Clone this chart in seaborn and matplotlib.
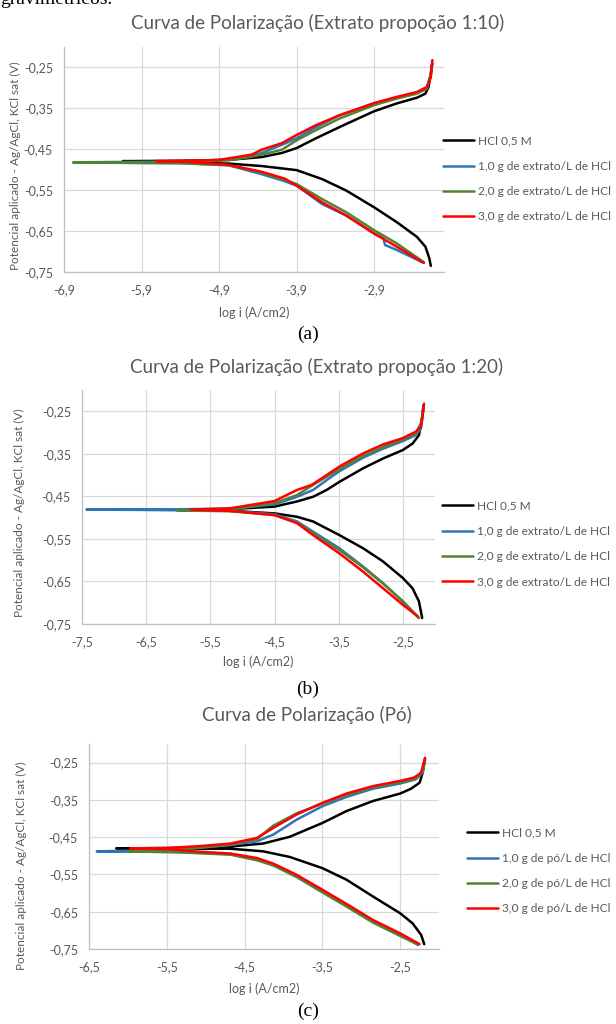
import numpy as np
import pandas as pd
import matplotlib
matplotlib.use("Agg")
import matplotlib.pyplot as plt
import seaborn as sns

# ---------------- DATA ----------------
LABELS_EXT = ["HCl 0,5 M", "1,0 g de extrato/L de HCl", "2,0 g de extrato/L de HCl", "3,0 g de extrato/L de HCl"]
LABELS_PO = ["HCl 0,5 M", "1,0 g de pó/L de HCl", "2,0 g de pó/L de HCl", "3,0 g de pó/L de HCl"]
COLORS = ["#000000", "#2E75B6", "#548235", "#FF0000"]

TITLES = ["Curva de Polarização (Extrato propoção 1:10)",
          "Curva de Polarização (Extrato propoção 1:20)",
          "Curva de Polarização (Pó)"]
SUBLABELS = ["(a)", "(b)", "(c)"]
X_LABEL = "log i (A/cm2)"
Y_LABEL = "Potencial aplicado - Ag/AgCl, KCl sat (V)"

XTICKS_A = [-6.9, -5.9, -4.9, -3.9, -2.9]
XTICKS_B = [-7.5, -6.5, -5.5, -4.5, -3.5, -2.5]
XTICKS_C = [-6.5, -5.5, -4.5, -3.5, -2.5]
YTICKS = [-0.25, -0.35, -0.45, -0.55, -0.65, -0.75]

# ---- panel (a): extract 1:10 ----
A_HCL_LOGI = [-2.17, -2.19, -2.24, -2.35, -2.61, -2.90, -3.26, -3.57, -3.90, -4.35, -4.78, -5.40, -6.14,
              -5.40, -4.78, -4.35, -4.09, -3.90, -3.65, -3.35, -3.04, -2.90, -2.61, -2.35, -2.24, -2.20, -2.17, -2.16]
A_HCL_E = [-0.735, -0.716, -0.688, -0.664, -0.628, -0.592, -0.551, -0.523, -0.501, -0.491, -0.485, -0.482, -0.479,
           -0.478, -0.476, -0.469, -0.459, -0.447, -0.423, -0.396, -0.369, -0.357, -0.338, -0.324, -0.314, -0.298, -0.266, -0.245]
A_1G_LOGI = [-2.28, -2.61, -2.76, -2.78, -2.90, -3.26, -3.57, -3.90, -4.07, -4.35, -4.78, -5.40, -6.20, -6.78,
             -6.20, -5.40, -4.78, -4.48, -4.35, -4.09, -3.90, -3.65, -3.35, -2.90, -2.61, -2.35, -2.22, -2.17, -2.15]
A_1G_E = [-0.726, -0.696, -0.684, -0.668, -0.656, -0.612, -0.584, -0.539, -0.527, -0.511, -0.489, -0.484, -0.483, -0.482,
          -0.481, -0.480, -0.475, -0.466, -0.459, -0.439, -0.423, -0.396, -0.367, -0.338, -0.324, -0.312, -0.298, -0.266, -0.240]
A_2G_LOGI = [-2.26, -2.61, -2.90, -3.26, -3.57, -3.90, -4.35, -4.78, -5.40, -6.20, -6.78,
             -6.20, -5.40, -4.78, -4.48, -4.35, -4.09, -3.90, -3.65, -3.35, -2.90, -2.61, -2.35, -2.22, -2.17, -2.15]
A_2G_E = [-0.726, -0.680, -0.648, -0.604, -0.572, -0.535, -0.507, -0.489, -0.484, -0.483, -0.483,
          -0.482, -0.481, -0.477, -0.468, -0.463, -0.451, -0.428, -0.403, -0.375, -0.342, -0.326, -0.314, -0.302, -0.266, -0.240]
A_3G_LOGI = [-2.26, -2.61, -2.90, -3.26, -3.57, -3.90, -4.05, -4.35, -4.78, -5.30, -5.71,
             -5.30, -4.90, -4.48, -4.35, -4.09, -3.90, -3.65, -3.35, -2.90, -2.61, -2.35, -2.22, -2.17, -2.15]
A_3G_E = [-0.728, -0.688, -0.656, -0.612, -0.580, -0.539, -0.522, -0.505, -0.488, -0.481, -0.479,
          -0.478, -0.476, -0.463, -0.451, -0.435, -0.415, -0.391, -0.367, -0.337, -0.322, -0.310, -0.298, -0.274, -0.232]

# ---- panel (b): extract 1:20 ----
B_HCL_LOGI = [-2.20, -2.25, -2.35, -2.50, -2.81, -3.12, -3.49, -3.90, -4.15, -4.50, -5.19, -5.60,
              -5.19, -4.50, -4.15, -3.90, -3.69, -3.49, -3.12, -2.81, -2.50, -2.35, -2.25, -2.21, -2.18]
B_HCL_E = [-0.736, -0.697, -0.666, -0.642, -0.603, -0.572, -0.541, -0.509, -0.498, -0.490, -0.484, -0.481,
           -0.480, -0.474, -0.462, -0.451, -0.435, -0.416, -0.384, -0.361, -0.341, -0.326, -0.306, -0.275, -0.236]
B_1G_LOGI = [-2.25, -2.50, -2.81, -3.12, -3.49, -3.90, -4.15, -4.50, -5.19, -6.50, -7.43,
             -6.50, -5.19, -4.50, -4.15, -3.90, -3.69, -3.49, -3.12, -2.81, -2.50, -2.30, -2.22, -2.20, -2.18]
B_1G_E = [-0.736, -0.697, -0.654, -0.615, -0.572, -0.533, -0.509, -0.492, -0.484, -0.482, -0.481,
          -0.481, -0.479, -0.469, -0.451, -0.435, -0.412, -0.391, -0.359, -0.338, -0.320, -0.306, -0.291, -0.267, -0.240]
B_2G_LOGI = [-2.25, -2.50, -2.81, -3.12, -3.49, -3.90, -4.15, -4.50, -5.19, -6.02,
             -5.19, -4.50, -4.15, -3.90, -3.69, -3.49, -3.12, -2.81, -2.50, -2.30, -2.21, -2.18]
B_2G_E = [-0.736, -0.697, -0.655, -0.617, -0.576, -0.537, -0.511, -0.494, -0.485, -0.483,
          -0.481, -0.466, -0.447, -0.423, -0.404, -0.386, -0.355, -0.334, -0.316, -0.302, -0.275, -0.240]
B_3G_LOGI = [-2.27, -2.50, -2.81, -3.12, -3.49, -3.90, -4.15, -4.50, -5.19, -5.81,
             -5.19, -4.50, -4.15, -3.92, -3.69, -3.49, -3.12, -2.81, -2.50, -2.30, -2.22, -2.19, -2.17]
B_3G_E = [-0.732, -0.705, -0.666, -0.627, -0.584, -0.541, -0.513, -0.494, -0.484, -0.481,
          -0.478, -0.461, -0.435, -0.423, -0.400, -0.380, -0.349, -0.328, -0.313, -0.298, -0.287, -0.259, -0.232]

# ---- panel (c): powder ----
C_HCL_LOGI = [-2.19, -2.23, -2.34, -2.50, -2.85, -3.19, -3.50, -3.92, -4.26, -4.68, -5.40, -6.15,
              -5.40, -4.68, -4.26, -3.92, -3.50, -3.19, -2.85, -2.50, -2.36, -2.25, -2.21, -2.18]
C_HCL_E = [-0.737, -0.712, -0.681, -0.654, -0.609, -0.564, -0.533, -0.503, -0.488, -0.481, -0.481, -0.480,
           -0.479, -0.475, -0.467, -0.449, -0.412, -0.380, -0.353, -0.333, -0.320, -0.304, -0.277, -0.241]
C_1G_LOGI = [-2.27, -2.50, -2.85, -3.19, -3.50, -3.83, -4.13, -4.34, -4.68, -5.40, -6.40,
             -5.40, -4.68, -4.34, -4.13, -3.83, -3.50, -3.19, -2.85, -2.50, -2.30, -2.21, -2.18]
C_1G_E = [-0.739, -0.712, -0.676, -0.633, -0.596, -0.555, -0.524, -0.510, -0.495, -0.490, -0.488,
          -0.484, -0.471, -0.461, -0.443, -0.403, -0.367, -0.342, -0.320, -0.306, -0.295, -0.277, -0.245]
C_2G_LOGI = [-2.28, -2.50, -2.85, -3.19, -3.50, -3.83, -4.13, -4.34, -4.68, -5.40, -6.00,
             -5.40, -4.68, -4.34, -4.13, -3.83, -3.50, -3.19, -2.85, -2.50, -2.30, -2.21, -2.18]
C_2G_E = [-0.737, -0.715, -0.679, -0.636, -0.598, -0.557, -0.526, -0.512, -0.497, -0.490, -0.488,
          -0.485, -0.470, -0.455, -0.419, -0.386, -0.360, -0.336, -0.316, -0.302, -0.293, -0.272, -0.240]
C_3G_LOGI = [-2.25, -2.50, -2.85, -3.19, -3.50, -3.83, -4.13, -4.34, -4.68, -5.08, -5.50, -5.97,
             -5.50, -5.08, -4.68, -4.34, -4.13, -3.83, -3.50, -3.19, -2.85, -2.50, -2.32, -2.23, -2.18]
C_3G_E = [-0.737, -0.708, -0.672, -0.629, -0.591, -0.551, -0.521, -0.506, -0.494, -0.489, -0.482, -0.480,
          -0.479, -0.474, -0.467, -0.452, -0.425, -0.389, -0.358, -0.333, -0.313, -0.299, -0.290, -0.277, -0.237]

# ---------------- STYLE ----------------
sns.set_style("white")
plt.rcParams["font.family"] = ["Lato", "DejaVu Sans"]
GRAY_TXT = "#595959"
W, H = 616, 1024


def fx(x):
    return x / W


def fy(y):
    return 1 - y / H


def frame(series, labels):
    rows = []
    for (lx, ey), lab in zip(series, labels):
        rows.append(pd.DataFrame({"logi": lx, "E": ey, "serie": lab, "k": np.arange(len(lx))}))
    return pd.concat(rows, ignore_index=True)


panels = [
    dict(series=[(A_HCL_LOGI, A_HCL_E), (A_1G_LOGI, A_1G_E), (A_2G_LOGI, A_2G_E), (A_3G_LOGI, A_3G_E)],
         labels=LABELS_EXT, xticks=XTICKS_A, xlim=(-6.9, -2.0), box=(64, 47, 444, 272),
         title_xy=(318, 23), sub_xy=(308, 334), leg=(443, 179), ylab=(21, 166), xlab_top=306),
    dict(series=[(B_HCL_LOGI, B_HCL_E), (B_1G_LOGI, B_1G_E), (B_2G_LOGI, B_2G_E), (B_3G_LOGI, B_3G_E)],
         labels=LABELS_EXT, xticks=XTICKS_B, xlim=(-7.5, -2.0), box=(82, 390, 435, 624),
         title_xy=(317, 367), sub_xy=(308, 689), leg=(442, 544), ylab=(25, 513), xlab_top=655),
    dict(series=[(C_HCL_LOGI, C_HCL_E), (C_1G_LOGI, C_1G_E), (C_2G_LOGI, C_2G_E), (C_3G_LOGI, C_3G_E)],
         labels=LABELS_PO, xticks=XTICKS_C, xlim=(-6.5, -2.0), box=(89, 744, 439, 949),
         title_xy=(307, 715), sub_xy=(308, 1011), leg=(467, 871), ylab=(27, 866), xlab_top=982),
]

fig = plt.figure(figsize=(W / 100, H / 100), dpi=100)
fig.patch.set_facecolor("white")

# partially visible line of body text at the very top of the scanned page
fig.text(fx(0), fy(4), "gravimétricos.", fontsize=14, family="Liberation Serif",
         ha="left", va="baseline", color="black")

for i, p in enumerate(panels):
    l, t, r, b = p["box"]
    ax = fig.add_axes([fx(l), fy(b), (r - l) / W, (b - t) / H])
    df = frame(p["series"], p["labels"])
    sns.lineplot(data=df, x="logi", y="E", hue="serie", hue_order=p["labels"],
                 palette=COLORS, sort=False, estimator=None, linewidth=1.8, ax=ax)
    ax.set_xlim(*p["xlim"])
    ax.set_ylim(-0.75, -0.20)
    ax.set_xticks(p["xticks"])
    ax.set_xticklabels([f"{v:.1f}".replace(".", ",") for v in p["xticks"]])
    ax.set_yticks(YTICKS)
    ax.set_yticklabels([f"{v:.2f}".replace(".", ",") for v in YTICKS])
    ax.tick_params(axis="both", length=0, labelsize=9, colors=GRAY_TXT)
    ax.tick_params(axis="x", pad=9)
    ax.tick_params(axis="y", pad=8)
    ax.grid(True, color="#D9D9D9", linewidth=0.9)
    ax.set_axisbelow(True)
    for s in ["top", "right"]:
        ax.spines[s].set_visible(False)
    for s in ["left", "bottom"]:
        ax.spines[s].set_color("#BFBFBF")
        ax.spines[s].set_linewidth(0.9)
    ax.set_xlabel(X_LABEL, fontsize=9, color=GRAY_TXT)
    ax.set_ylabel(Y_LABEL, fontsize=8.5, color=GRAY_TXT)
    ax.xaxis.set_label_coords(0.5, (b - p["xlab_top"]) / (b - t))
    yx, yy = p["ylab"]
    ax.yaxis.set_label_coords((yx - l) / (r - l), (b - yy) / (b - t))

    lx, ly = p["leg"]
    sns.move_legend(ax, "center left",
                    bbox_to_anchor=((lx - l) / (r - l), (b - ly) / (b - t)),
                    frameon=False, title=None, fontsize=8.6, labelcolor=GRAY_TXT,
                    handlelength=2.6, handletextpad=0.3, labelspacing=1.2,
                    borderpad=0, borderaxespad=0)

    tx, ty = p["title_xy"]
    fig.text(fx(tx), fy(ty), TITLES[i], fontsize=13.5, color=GRAY_TXT, ha="center", va="center")
    sx, sy = p["sub_xy"]
    fig.text(fx(sx), fy(sy), SUBLABELS[i], fontsize=14, family="Liberation Serif",
             color="black", ha="center", va="center")

fig.savefig("out.png", dpi=100, facecolor="white")
